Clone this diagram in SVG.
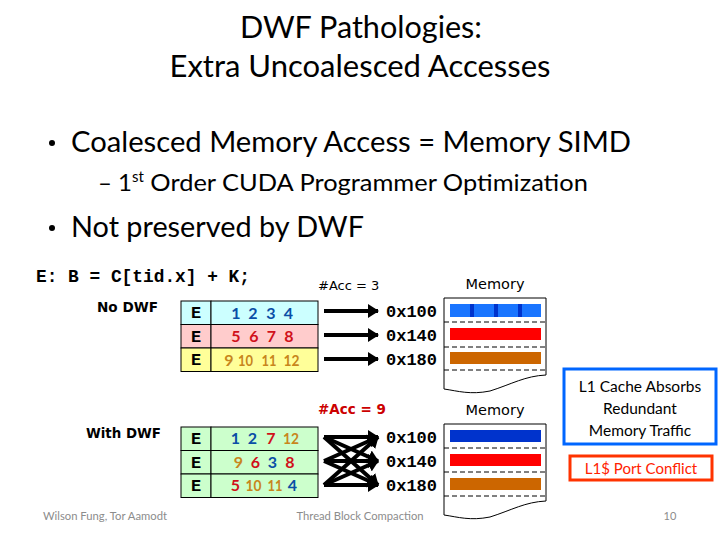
<svg xmlns="http://www.w3.org/2000/svg" width="720" height="540" viewBox="0 0 720 540">
<style>
.cal{font-family:Lato,"Open Sans","DejaVu Sans",sans-serif;}
.mono{font-family:"Liberation Mono","Courier New",monospace;font-weight:bold;}
.tah{font-family:"DejaVu Sans","Liberation Sans",sans-serif;}
.num{font-family:Lato,"Open Sans",sans-serif;font-weight:bold;font-size:16px;text-anchor:middle;}
.b{fill:#0a4ea6}.r{fill:#d0101a}.o{fill:#c8861c}
.cell{stroke:#000;stroke-width:1}
.arr{stroke:#000;stroke-width:4;fill:none;marker-end:url(#ah)}
.dash{stroke:#000;stroke-width:1;stroke-dasharray:5,3}
.mem{fill:none;stroke:#000;stroke-width:1}
.foot{font-family:Lato,"Open Sans",sans-serif;font-size:11px;fill:#8c8c8c}
</style>
<defs>
<marker id="ah" markerUnits="userSpaceOnUse" markerWidth="12" markerHeight="14" refX="10" refY="7" orient="auto">
<path d="M0,0 L11,7 L0,14 Z" fill="#000"/>
</marker>
</defs>
<rect width="720" height="540" fill="#fff"/>

<g id="title" class="cal" font-size="30" text-anchor="middle" fill="#000">
<text x="361" y="38" textLength="242" lengthAdjust="spacingAndGlyphs">DWF Pathologies:</text>
<text x="360" y="77" textLength="381" lengthAdjust="spacingAndGlyphs">Extra Uncoalesced Accesses</text>
</g>

<g id="bullets" class="cal" fill="#000">
<circle cx="52" cy="143" r="3"/>
<text x="71" y="152" font-size="28" textLength="560" lengthAdjust="spacingAndGlyphs">Coalesced Memory Access = Memory SIMD</text>
<text x="98" y="191" font-size="24">– 1<tspan font-size="15" dy="-9">st</tspan><tspan dy="9" textLength="444" lengthAdjust="spacingAndGlyphs"> Order CUDA Programmer Optimization</tspan></text>
<circle cx="52" cy="228" r="3"/>
<text x="71" y="237" font-size="28" textLength="293" lengthAdjust="spacingAndGlyphs">Not preserved by DWF</text>
</g>

<g id="code">
<text class="mono" x="36" y="282" font-size="17.5" textLength="214" lengthAdjust="spacingAndGlyphs">E: B = C[tid.x] + K;</text>
</g>

<g id="label-nodwf"><text class="tah" x="97" y="312" font-size="13.5" font-weight="bold" textLength="61" lengthAdjust="spacingAndGlyphs">No DWF</text></g>
<g id="label-withdwf"><text class="tah" x="86" y="438" font-size="13.5" font-weight="bold" textLength="75" lengthAdjust="spacingAndGlyphs">With DWF</text></g>

<g id="table-nodwf">
<rect class="cell" x="181" y="301" width="30" height="23.5" fill="#ccffff"/>
<rect class="cell" x="211" y="301" width="107" height="23.5" fill="#ccffff"/>
<rect class="cell" x="181" y="324.5" width="30" height="23.5" fill="#ffcccc"/>
<rect class="cell" x="211" y="324.5" width="107" height="23.5" fill="#ffcccc"/>
<rect class="cell" x="181" y="348" width="30" height="23.5" fill="#ffff99"/>
<rect class="cell" x="211" y="348" width="107" height="23.5" fill="#ffff99"/>
<g class="mono" font-size="17" text-anchor="middle">
<text x="196" y="318">E</text><text x="196" y="342">E</text><text x="196" y="365">E</text>
</g>
<g class="num">
<text y="318.5" class="b"><tspan x="236">1</tspan><tspan x="253">2</tspan><tspan x="271">3</tspan><tspan x="288.5">4</tspan></text>
<text y="342" class="r"><tspan x="236">5</tspan><tspan x="254">6</tspan><tspan x="271.5">7</tspan><tspan x="289">8</tspan></text>
<text y="365.5" class="o"><tspan x="229">9</tspan><tspan x="245.5" textLength="15" lengthAdjust="spacingAndGlyphs">10</tspan><tspan x="269" textLength="15" lengthAdjust="spacingAndGlyphs">11</tspan><tspan x="291.5" textLength="16" lengthAdjust="spacingAndGlyphs">12</tspan></text>
</g>
</g>

<g id="table-withdwf">
<rect class="cell" x="181" y="427" width="30" height="23.5" fill="#ccffcc"/>
<rect class="cell" x="211" y="427" width="107" height="23.5" fill="#ccffcc"/>
<rect class="cell" x="181" y="450.5" width="30" height="23.5" fill="#ccffcc"/>
<rect class="cell" x="211" y="450.5" width="107" height="23.5" fill="#ccffcc"/>
<rect class="cell" x="181" y="474" width="30" height="23.5" fill="#ccffcc"/>
<rect class="cell" x="211" y="474" width="107" height="23.5" fill="#ccffcc"/>
<g class="mono" font-size="17" text-anchor="middle">
<text x="196" y="444">E</text><text x="196" y="468">E</text><text x="196" y="491">E</text>
</g>
<g class="num">
<text y="444"><tspan x="235.5" class="b">1</tspan><tspan x="252.5" class="b">2</tspan><tspan x="271" class="r">7</tspan><tspan x="291" class="o" textLength="16" lengthAdjust="spacingAndGlyphs">12</tspan></text>
<text y="467.5"><tspan x="238.5" class="o">9</tspan><tspan x="255.5" class="r">6</tspan><tspan x="272.5" class="b">3</tspan><tspan x="290" class="r">8</tspan></text>
<text y="491"><tspan x="235.5" class="r">5</tspan><tspan x="253.5" class="o" textLength="16" lengthAdjust="spacingAndGlyphs">10</tspan><tspan x="275" class="o" textLength="15" lengthAdjust="spacingAndGlyphs">11</tspan><tspan x="292.5" class="b">4</tspan></text>
</g>
</g>

<g id="acc3"><text class="tah" x="318" y="290" font-size="13" fill="#000">#Acc = 3</text></g>
<g id="acc9"><text class="tah" x="318" y="414" font-size="13.5" font-weight="bold" fill="#cc0000">#Acc = 9</text></g>

<g id="connectors">
<line class="arr" x1="324" y1="311" x2="378" y2="311"/>
<line class="arr" x1="324" y1="335" x2="378" y2="335"/>
<line class="arr" x1="324" y1="359" x2="378" y2="359"/>
<line class="arr" x1="324" y1="437" x2="378" y2="437"/>
<line class="arr" x1="324" y1="437" x2="378" y2="461"/>
<line class="arr" x1="324" y1="437" x2="378" y2="485"/>
<line class="arr" x1="324" y1="461" x2="378" y2="437"/>
<line class="arr" x1="324" y1="461" x2="378" y2="461"/>
<line class="arr" x1="324" y1="461" x2="378" y2="485"/>
<line class="arr" x1="324" y1="485" x2="378" y2="437"/>
<line class="arr" x1="324" y1="485" x2="378" y2="461"/>
<line class="arr" x1="324" y1="485" x2="378" y2="485"/>
</g>

<g id="addr1" class="mono" font-size="17" fill="#000">
<text x="386" y="317">0x100</text><text x="386" y="341">0x140</text><text x="386" y="365">0x180</text>
</g>
<g id="addr2" class="mono" font-size="17" fill="#000">
<text x="386" y="443">0x100</text><text x="386" y="467">0x140</text><text x="386" y="491">0x180</text>
</g>

<g id="memory1">
<text class="tah" x="495" y="289" font-size="14.5" text-anchor="middle">Memory</text>
<path class="mem" d="M444,298 H546 V375 C525,376 512,384 490,391 C470,395 458,391 444,389 Z"/>
<line class="dash" x1="444" y1="322" x2="546" y2="322"/>
<line class="dash" x1="444" y1="347" x2="546" y2="347"/>
<line class="dash" x1="444" y1="370" x2="546" y2="370"/>
<rect x="450" y="304" width="91" height="13" fill="#1a75ff"/>
<rect x="470" y="304" width="4" height="13" fill="#0033cc"/>
<rect x="494" y="304" width="4" height="13" fill="#0033cc"/>
<rect x="518" y="304" width="4" height="13" fill="#0033cc"/>
<rect x="450" y="328" width="91" height="12" fill="#ff0000"/>
<rect x="450" y="352" width="91" height="12" fill="#cc6600"/>
</g>

<g id="memory2">
<text class="tah" x="495" y="415" font-size="14.5" text-anchor="middle">Memory</text>
<path class="mem" d="M444,424 H546 V501 C525,502 512,510 490,517 C470,521 458,517 444,515 Z"/>
<line class="dash" x1="444" y1="448" x2="546" y2="448"/>
<line class="dash" x1="444" y1="472" x2="546" y2="472"/>
<line class="dash" x1="444" y1="496" x2="546" y2="496"/>
<rect x="450" y="430" width="91" height="12" fill="#0033cc"/>
<rect x="450" y="454" width="91" height="12" fill="#ff0000"/>
<rect x="450" y="478" width="91" height="12" fill="#cc6600"/>
</g>

<g id="l1-cache-note">
<rect x="564" y="369" width="152" height="75" fill="#fff" stroke="#0066ff" stroke-width="3"/>
<g class="cal" font-size="15.5" text-anchor="middle" fill="#000">
<text x="640" y="392">L1 Cache Absorbs</text>
<text x="640" y="414">Redundant</text>
<text x="640" y="436">Memory Traffic</text>
</g>
</g>

<g id="port-conflict-note">
<rect x="570" y="456" width="142" height="24" fill="#fff" stroke="#ff3300" stroke-width="3"/>
<text class="cal" x="641" y="474" font-size="15" text-anchor="middle" fill="#ff2200">L1$ Port Conflict</text>
</g>

<g id="footer">
<text class="foot" x="43" y="520" textLength="124" lengthAdjust="spacingAndGlyphs">Wilson Fung, Tor Aamodt</text>
<text class="foot" x="360" y="520" text-anchor="middle" textLength="127" lengthAdjust="spacingAndGlyphs">Thread Block Compaction</text>
<text class="foot" x="670" y="520" text-anchor="middle">10</text>
</g>
</svg>
